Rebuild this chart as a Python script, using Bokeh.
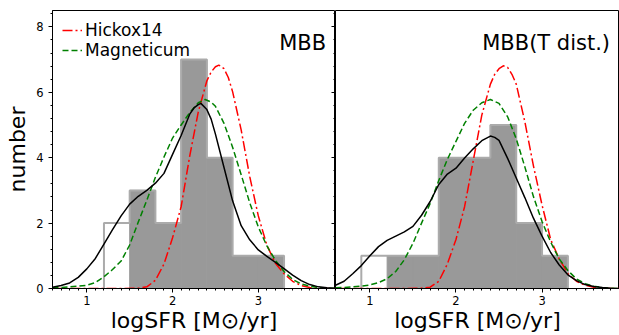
from bokeh.plotting import figure
from bokeh.layouts import row
from bokeh.models import Range1d, LinearAxis, SingleIntervalTicker, Label, Legend, LegendItem
from bokeh.embed import file_html
from bokeh.resources import INLINE

FONT = "DejaVu Sans"

# ---------------- data ----------------
# Left panel: MBB
edges_L = [1.2, 1.5, 1.8, 2.1, 2.4, 2.7, 3.0, 3.3]
all_L = [2, 3, 2, 7, 4, 1, 1]          # outline (step) histogram
sel_L = [0, 3, 2, 7, 4, 1, 1]          # filled histogram

black_L_x = [0.6, 0.7, 0.8, 0.9, 1.0, 1.1, 1.2, 1.3, 1.4, 1.5, 1.6, 1.7, 1.8, 1.9, 2.0, 2.1, 2.2, 2.25, 2.3,
             2.33, 2.4, 2.45, 2.5, 2.6, 2.7, 2.8, 2.9, 3.0, 3.1, 3.2, 3.3, 3.4, 3.5, 3.6, 3.7, 3.8, 3.9]
black_L_y = [0.04, 0.09, 0.17, 0.34, 0.6, 0.92, 1.36, 1.8, 2.22, 2.58, 2.82, 3.0, 3.22, 3.52, 4.1, 4.68, 5.33, 5.52, 5.62,
             5.66, 5.47, 5.18, 4.72, 3.7, 2.68, 1.92, 1.49, 1.18, 0.98, 0.8, 0.61, 0.41, 0.24, 0.12, 0.05, 0.02, 0.01]

green_L_x = [0.6, 0.7, 0.8, 0.9, 1.0, 1.1, 1.2, 1.3, 1.4, 1.5, 1.6, 1.7, 1.8, 1.9, 2.0, 2.1, 2.2, 2.3, 2.38,
             2.45, 2.5, 2.6, 2.7, 2.8, 2.9, 3.0, 3.1, 3.2, 3.3, 3.4, 3.5, 3.6, 3.7, 3.8, 3.9]
green_L_y = [0.02, 0.03, 0.05, 0.07, 0.1, 0.18, 0.36, 0.58, 0.84, 1.33, 2.03, 2.7, 3.4, 4.02, 4.6, 5.0, 5.38, 5.68, 5.78,
             5.7, 5.57, 5.05, 4.32, 3.48, 2.62, 1.88, 1.3, 0.86, 0.52, 0.28, 0.14, 0.07, 0.03, 0.01, 0.0]

red_L_x = [0.6, 1.0, 1.4, 1.6, 1.7, 1.8, 1.9, 2.0, 2.1, 2.2, 2.3, 2.4, 2.45, 2.5, 2.54, 2.6, 2.65, 2.7,
           2.8, 2.9, 3.0, 3.1, 3.2, 3.3, 3.4, 3.5, 3.6, 3.7, 3.8, 3.9]
red_L_y = [0, 0, 0, 0.01, 0.05, 0.25, 0.75, 1.55, 2.5, 4.05, 5.4, 6.35, 6.62, 6.78, 6.83, 6.72, 6.45, 6.02,
           4.85, 3.42, 2.22, 1.32, 0.77, 0.45, 0.22, 0.09, 0.03, 0.01, 0, 0]

# Right panel: MBB(T dist.)
edges_R = [0.9, 1.2, 1.5, 1.8, 2.1, 2.4, 2.7, 3.0, 3.3]
all_R = [1, 1, 1, 4, 4, 5, 2, 1]
sel_R = [0, 1, 1, 4, 4, 5, 2, 1]

black_R_x = [0.6, 0.7, 0.8, 0.9, 1.0, 1.1, 1.2, 1.3, 1.4, 1.5, 1.6, 1.7, 1.8, 1.9, 2.0, 2.1, 2.2, 2.3, 2.4,
             2.45, 2.5, 2.6, 2.7, 2.8, 2.9, 3.0, 3.1, 3.2, 3.3, 3.4, 3.5, 3.6, 3.7, 3.8, 3.9]
black_R_y = [0.1, 0.22, 0.45, 0.7, 1.0, 1.28, 1.47, 1.6, 1.73, 1.9, 2.24, 2.66, 3.18, 3.5, 3.68, 3.99, 4.27, 4.52, 4.66,
             4.62, 4.53, 3.98, 3.38, 2.78, 2.15, 1.6, 1.1, 0.72, 0.42, 0.24, 0.12, 0.06, 0.03, 0.01, 0.0]

green_R_x = [0.6, 0.7, 0.8, 0.9, 1.0, 1.1, 1.2, 1.3, 1.4, 1.5, 1.6, 1.7, 1.8, 1.9, 2.0, 2.1, 2.2, 2.3, 2.4,
             2.5, 2.6, 2.7, 2.8, 2.9, 3.0, 3.1, 3.2, 3.3, 3.4, 3.5, 3.6, 3.7, 3.8, 3.9]
green_R_y = [0.02, 0.03, 0.05, 0.07, 0.11, 0.18, 0.3, 0.52, 0.88, 1.38, 2.0, 2.6, 3.3, 3.95, 4.5, 5.05, 5.45, 5.68, 5.78,
             5.66, 5.25, 4.58, 3.72, 2.81, 2.05, 1.42, 0.9, 0.55, 0.29, 0.15, 0.07, 0.03, 0.01, 0.0]

red_R_x = [0.6, 1.0, 1.4, 1.6, 1.7, 1.8, 1.9, 2.0, 2.1, 2.2, 2.3, 2.4, 2.45, 2.5, 2.55, 2.6, 2.65, 2.7,
           2.8, 2.9, 3.0, 3.1, 3.2, 3.3, 3.4, 3.5, 3.6, 3.7, 3.8, 3.9]
red_R_y = [0, 0, 0, 0.01, 0.04, 0.22, 0.75, 1.5, 2.5, 3.9, 5.3, 6.25, 6.55, 6.72, 6.81, 6.76, 6.55, 6.25,
           5.1, 3.75, 2.55, 1.5, 0.9, 0.46, 0.22, 0.1, 0.04, 0.01, 0, 0]

titles = ["MBB", "MBB(T dist.)"]
legend_labels = ["Hickox14", "Magneticum"]
x_label = "logSFR [M\u2299/yr]"
y_label = "number"
y_ticks = [0, 2, 4, 6, 8]


def step_outline(edges, counts):
    xs, ys = [edges[0]], [0]
    for i, c in enumerate(counts):
        xs += [edges[i], edges[i + 1]]
        ys += [c, c]
    xs.append(edges[-1])
    ys.append(0)
    return xs, ys


def style_axis(ax):
    ax.axis_line_color = "black"
    ax.major_tick_line_color = "black"
    ax.minor_tick_line_color = "black"
    ax.major_tick_in = 0
    ax.major_tick_out = 4
    ax.minor_tick_in = 0
    ax.minor_tick_out = 2
    ax.major_label_text_font = FONT
    ax.major_label_text_font_size = "11.5px"
    ax.major_label_text_color = "black"
    ax.axis_label_text_font = FONT
    ax.axis_label_text_font_style = "normal"
    ax.axis_label_text_color = "black"


def make_panel(width, left_border, edges, all_c, sel_c, bx, by, gx, gy, rx, ry, title, with_yaxis):
    p = figure(width=width, height=335, x_range=Range1d(0.6, 3.9), y_range=Range1d(0, 8.5),
               output_backend="svg", toolbar_location=None,
               y_axis_location="left" if with_yaxis else None,
               min_border_left=left_border, min_border_right=0, min_border_top=10, min_border_bottom=46)
    p.xgrid.visible = False
    p.ygrid.visible = False
    p.outline_line_color = "black"
    p.background_fill_color = "white"

    p.quad(left=edges[:-1], right=edges[1:], bottom=0, top=sel_c,
           fill_color="#999999", line_color="#999999", line_width=1)
    ox, oy = step_outline(edges, all_c)
    p.line(ox, oy, line_color="#ababab", line_width=2)

    r_red = p.line(rx, ry, line_color="red", line_width=1.5, line_dash="10 3 2 3")
    r_green = p.line(gx, gy, line_color="green", line_width=1.5, line_dash="6 3")
    p.line(bx, by, line_color="black", line_width=1.5)

    xax = p.xaxis[0]
    xax.ticker = SingleIntervalTicker(interval=1, num_minor_ticks=10)
    style_axis(xax)
    xax.axis_label = x_label
    xax.axis_label_text_font_size = "22px"
    xax.major_label_standoff = 3
    xax.axis_label_standoff = 0

    if with_yaxis:
        yax = p.yaxis[0]
        yax.ticker = SingleIntervalTicker(interval=2, num_minor_ticks=5)
        style_axis(yax)
        yax.axis_label = y_label
        yax.axis_label_text_font_size = "22px"
        yax.major_label_standoff = 5
        yax.axis_label_standoff = 3

        rax = LinearAxis(ticker=SingleIntervalTicker(interval=2, num_minor_ticks=5))
        style_axis(rax)
        rax.major_tick_in = 4
        rax.major_tick_out = 0
        rax.minor_tick_in = 2
        rax.minor_tick_out = 0
        rax.major_label_overrides = {t: "" for t in y_ticks}
        rax.major_label_standoff = 0
        rax.axis_label = None
        p.add_layout(rax, "right")

        legend = Legend(items=[LegendItem(label=legend_labels[0], renderers=[r_red]),
                               LegendItem(label=legend_labels[1], renderers=[r_green])],
                        location="top_left")
        legend.background_fill_alpha = 0
        legend.border_line_alpha = 0
        legend.label_text_font = FONT
        legend.label_text_font_size = "17px"
        legend.label_text_color = "black"
        legend.glyph_width = 20
        legend.glyph_height = 16
        legend.label_height = 16
        legend.spacing = -2
        legend.padding = 0
        legend.margin = 10
        legend.label_standoff = 3
        p.add_layout(legend)

    p.add_layout(Label(x=3.79, y=7.5, text=title, text_align="right", text_baseline="alphabetic",
                       text_font=FONT, text_font_size="21px", text_color="black"))
    return p


p1 = make_panel(335, 52, edges_L, all_L, sel_L, black_L_x, black_L_y, green_L_x, green_L_y,
                red_L_x, red_L_y, titles[0], True)
p2 = make_panel(284, 0, edges_R, all_R, sel_R, black_R_x, black_R_y, green_R_x, green_R_y,
                red_R_x, red_R_y, titles[1], False)

layout = row(p1, p2, spacing=0)
open("out.html", "w").write(file_html(layout, INLINE))
